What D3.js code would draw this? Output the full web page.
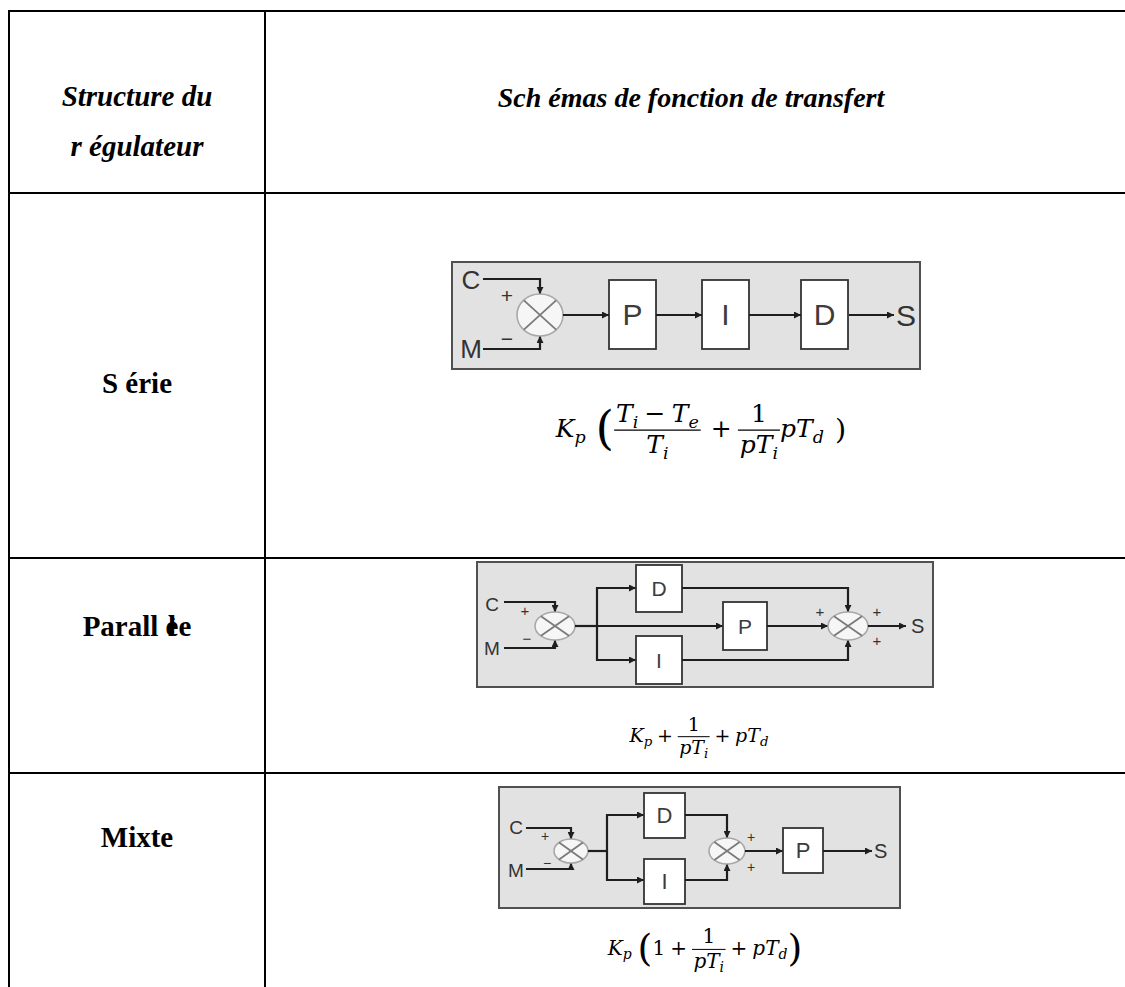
<!DOCTYPE html>
<html>
<head>
<meta charset="utf-8">
<script src="https://cdn.jsdelivr.net/npm/d3@7"></script>
<style>
  body { margin: 0; background: #fff; }
  svg { display: block; }
</style>
</head>
<body>
<svg id="chart" width="1125" height="987"></svg>
<script>
/* Table of PID regulator structures, drawn with D3 */

///////////////////////////////
/// Data
///////////////////////////////

const headerLeft = ["Structure du", "r égulateur"];
const headerRight = "Sch émas de fonction de transfert";
const rowLabels = ["S érie", "Parall èle", "Mixte"];

const inputLabels = ["C", "M"];
const inputSigns = ["+", "−"];
const outputLabel = "S";

const serieBlocks = ["P", "I", "D"];
const paralleleBlocks = ["D", "P", "I"];   // top, middle, bottom
const mixteBlocks = ["D", "I", "P"];       // top, bottom, output
const paralleleSigns = ["+", "+", "+"];
const mixteSigns = ["+", "+"];

// formula tokens: v = variable(+subscript), n = number, o = operator,
// f = fraction, p = parenthesis (scale), s = space (em)
const serieFormula = [
    ["v", "K", "p"], ["s", 0.4], ["p", "(", 1.9],
    ["f", [["v", "T", "i"], ["o", "−"], ["v", "T", "e"]], [["v", "T", "i"]]],
    ["s", 0.15], ["o", "+"],
    ["f", [["n", "1"]], [["v", "pT", "i"]]],
    ["v", "pT", "d"], ["s", 0.45], ["p", ")", 1.15]
];
const paralleleFormula = [
    ["v", "K", "p"], ["o", "+"],
    ["f", [["n", "1"]], [["v", "pT", "i"]]],
    ["o", "+"], ["v", "pT", "d"]
];
const mixteFormula = [
    ["v", "K", "p"], ["s", 0.3], ["p", "(", 1.9], ["n", "1"], ["o", "+"],
    ["f", [["n", "1"]], [["v", "pT", "i"]]],
    ["o", "+"], ["v", "pT", "d"], ["p", ")", 1.9]
];

///////////////////////////////
/// Layout
///////////////////////////////

const width = 1125, height = 987;
const colX = [9, 265, width];
const rowY = [11, 193, 558, 773, height];

const svg = d3.select("#chart");

svg.append("defs").append("marker")
    .attr("id", "arrow")
    .attr("viewBox", "0 0 8 8")
    .attr("refX", 8).attr("refY", 4)
    .attr("markerWidth", 7).attr("markerHeight", 7)
    .attr("markerUnits", "userSpaceOnUse")
    .attr("orient", "auto")
    .append("path")
    .attr("d", "M0,0L8,4L0,8z")
    .attr("fill", "#1e1e1e");

// table grid
const grid = svg.append("g").attr("stroke", "#000").attr("stroke-width", 2);
rowY.slice(0, 4).forEach(y => {
    grid.append("line").attr("x1", colX[0] - 1).attr("x2", width).attr("y1", y).attr("y2", y);
});
colX.slice(0, 2).forEach(x => {
    grid.append("line").attr("x1", x).attr("x2", x).attr("y1", rowY[0]).attr("y2", height);
});

const leftCenter = (colX[0] + colX[1]) / 2;
const serifFont = "'Liberation Serif', 'Times New Roman', serif";
const mathFont = "'DejaVu Serif', serif";

// header
headerLeft.forEach((t, i) => {
    svg.append("text")
        .attr("x", leftCenter).attr("y", 106 + i * 50)
        .attr("text-anchor", "middle")
        .attr("font-family", serifFont).attr("font-size", 29)
        .attr("font-weight", "bold").attr("font-style", "italic")
        .text(t);
});
svg.append("text")
    .attr("x", 691).attr("y", 107)
    .attr("text-anchor", "middle")
    .attr("font-family", serifFont).attr("font-size", 28)
    .attr("font-weight", "bold").attr("font-style", "italic")
    .text(headerRight);

// row labels (the "èl" pair is drawn overlapping, as in the source document)
const labelBaselines = [393, 636, 847];
rowLabels.forEach((label, i) => {
    let t = svg.append("text")
        .attr("x", leftCenter).attr("y", labelBaselines[i])
        .attr("text-anchor", "middle")
        .attr("font-family", serifFont).attr("font-size", 29)
        .attr("font-weight", "bold");
    let k = label.indexOf("èl");
    if (k < 0) {
        t.text(label);
    } else {
        t.append("tspan").text(label.slice(0, k + 1));
        t.append("tspan").attr("dx", "-0.361em").text("l");
        t.append("tspan").attr("dx", "0.083em").text(label.slice(k + 2));
    }
});

///////////////////////////////
/// Diagram helpers
///////////////////////////////

const sansFont = "'Liberation Sans', Arial, sans-serif";

function frame(x, y, w, h) {
    let g = svg.append("g").attr("transform", "translate(" + x + "," + y + ")");
    g.append("rect").attr("width", w).attr("height", h)
        .attr("fill", "#e2e2e2").attr("stroke", "#505050").attr("stroke-width", 2);
    return g;
}

const lineGen = d3.line();

function wire(g, pts, arrow) {
    let p = g.append("path").attr("d", lineGen(pts))
        .attr("fill", "none").attr("stroke", "#1e1e1e").attr("stroke-width", 2.2);
    if (arrow) p.attr("marker-end", "url(#arrow)");
}

function block(g, x, y, w, h, label, size) {
    g.append("rect").attr("x", x).attr("y", y).attr("width", w).attr("height", h)
        .attr("fill", "#fff").attr("stroke", "#333").attr("stroke-width", 1.8);
    g.append("text").attr("x", x + w / 2).attr("y", y + h / 2)
        .attr("dy", "0.36em").attr("text-anchor", "middle")
        .attr("font-family", sansFont).attr("font-size", size).attr("fill", "#3c3c3c")
        .text(label);
}

function junction(g, cx, cy, rx, ry) {
    g.append("ellipse").attr("cx", cx).attr("cy", cy).attr("rx", rx).attr("ry", ry)
        .attr("fill", "#f6f6f6").attr("stroke", "#a8a8a8").attr("stroke-width", 1.6);
    let dx = rx * 0.7, dy = ry * 0.7;
    g.append("path")
        .attr("d", "M" + (cx - dx) + "," + (cy - dy) + "L" + (cx + dx) + "," + (cy + dy) +
                   "M" + (cx - dx) + "," + (cy + dy) + "L" + (cx + dx) + "," + (cy - dy))
        .attr("stroke", "#7a7a7a").attr("stroke-width", 1.8);
}

function label(g, x, y, text, size, anchor) {
    g.append("text").attr("x", x).attr("y", y).attr("dy", "0.36em")
        .attr("text-anchor", anchor || "middle")
        .attr("font-family", sansFont).attr("font-size", size).attr("fill", "#333")
        .text(text);
}

///////////////////////////////
/// Formula layout
///////////////////////////////

function mathRow(g, tokens, size, font) {
    let x = 0;
    tokens.forEach(tk => { x += mathToken(g, tk, x, size, font); });
    return x;
}

function mathToken(g, tk, x, size, font) {
    let kind = tk[0];
    if (kind === "s") return tk[1] * size;
    if (kind === "v" || kind === "n") {
        let t = g.append("text").attr("x", x).attr("y", 0)
            .attr("font-family", font).attr("font-size", size)
            .attr("font-style", kind === "v" ? "italic" : "normal")
            .text(tk[1]);
        if (tk[2]) {
            t.append("tspan").attr("font-size", size * 0.7).attr("dy", size * 0.22).text(tk[2]);
        }
        return t.node().getComputedTextLength();
    }
    if (kind === "o") {
        let pad = 0.25 * size;
        let t = g.append("text").attr("x", x + pad).attr("y", 0)
            .attr("font-family", font).attr("font-size", size).text(tk[1]);
        return t.node().getComputedTextLength() + 2 * pad;
    }
    if (kind === "p") {
        let s = size * tk[2];
        let axis = 0.28 * size;
        let t = g.append("text").attr("x", x).attr("y", -axis + 0.3 * s)
            .attr("font-family", font).attr("font-size", s)
            .text(tk[1]);
        return t.node().getComputedTextLength();
    }
    if (kind === "f") {
        let axis = 0.28 * size;
        let num = g.append("g"), den = g.append("g");
        let nw = mathRow(num, tk[1], size, font);
        let dw = mathRow(den, tk[2], size, font);
        let w = Math.max(nw, dw) + 0.15 * size;
        num.attr("transform", "translate(" + (x + (w - nw) / 2) + "," + (-axis - 0.32 * size) + ")");
        den.attr("transform", "translate(" + (x + (w - dw) / 2) + "," + (-axis + 0.92 * size) + ")");
        g.append("line").attr("x1", x).attr("x2", x + w)
            .attr("y1", -axis).attr("y2", -axis)
            .attr("stroke", "#000").attr("stroke-width", Math.max(1, size * 0.05));
        return w;
    }
    return 0;
}

function formula(tokens, cx, baseline, size) {
    let g = svg.append("g");
    let w = mathRow(g, tokens, size, mathFont);
    g.attr("transform", "translate(" + (cx - w / 2) + "," + baseline + ")");
}

///////////////////////////////
/// Série
///////////////////////////////

(function () {
    let g = frame(452, 262, 468, 107);
    label(g, 19, 18, inputLabels[0], 26);
    label(g, 19, 87, inputLabels[1], 26);
    wire(g, [[31, 17], [88, 17], [88, 32]], true);
    wire(g, [[31, 87], [88, 87], [88, 74]], true);
    junction(g, 88, 53, 23, 21);
    label(g, 55, 33, inputSigns[0], 21);
    label(g, 55, 76, inputSigns[1], 21);
    let bx = [157, 250, 349];
    serieBlocks.forEach((b, i) => block(g, bx[i], 18, 47, 69, b, 30));
    wire(g, [[111, 53], [157, 53]], true);
    wire(g, [[204, 53], [250, 53]], true);
    wire(g, [[297, 53], [349, 53]], true);
    wire(g, [[397, 53], [442, 53]], true);
    label(g, 444, 53, outputLabel, 30, "start");
    formula(serieFormula, 701, 437, 25);
})();

///////////////////////////////
/// Parallèle
///////////////////////////////

(function () {
    let g = frame(477, 562, 456, 125);
    label(g, 15, 42, inputLabels[0], 19);
    label(g, 15, 86, inputLabels[1], 19);
    wire(g, [[27, 40], [78, 40], [78, 50]], true);
    wire(g, [[27, 86], [78, 86], [78, 78]], true);
    junction(g, 78, 64, 20, 14);
    label(g, 48, 49, inputSigns[0], 15);
    label(g, 50, 77, inputSigns[1], 15);
    wire(g, [[98, 64], [120, 64]], false);
    wire(g, [[159, 26], [120, 26], [120, 98], [159, 98]], false);
    wire(g, [[120, 26], [159, 26]], true);
    wire(g, [[120, 98], [159, 98]], true);
    wire(g, [[120, 64], [246, 64]], true);
    block(g, 159, 3, 46, 47, paralleleBlocks[0], 21);
    block(g, 246, 40, 44, 48, paralleleBlocks[1], 21);
    block(g, 159, 74, 46, 48, paralleleBlocks[2], 21);
    wire(g, [[205, 26], [371, 26], [371, 50]], true);
    wire(g, [[290, 64], [351, 64]], true);
    wire(g, [[205, 98], [371, 98], [371, 78]], true);
    junction(g, 371, 64, 20, 14);
    label(g, 343, 50, paralleleSigns[0], 15);
    label(g, 400, 50, paralleleSigns[1], 15);
    label(g, 400, 79, paralleleSigns[2], 15);
    wire(g, [[391, 64], [429, 64]], true);
    label(g, 434, 64, outputLabel, 20, "start");
    formula(paralleleFormula, 699, 742, 19);
})();

///////////////////////////////
/// Mixte
///////////////////////////////

(function () {
    let g = frame(499, 787, 401, 121);
    label(g, 17, 40, inputLabels[0], 19);
    label(g, 17, 83, inputLabels[1], 19);
    wire(g, [[27, 41], [72, 41], [72, 52]], true);
    wire(g, [[27, 82], [72, 82], [72, 76]], true);
    junction(g, 72, 64, 17, 12);
    label(g, 46, 49, inputSigns[0], 14);
    label(g, 48, 76, inputSigns[1], 14);
    wire(g, [[89, 64], [108, 64]], false);
    wire(g, [[145, 28], [108, 28], [108, 93], [145, 93]], false);
    wire(g, [[108, 28], [145, 28]], true);
    wire(g, [[108, 93], [145, 93]], true);
    block(g, 145, 6, 41, 45, mixteBlocks[0], 22);
    block(g, 145, 72, 41, 45, mixteBlocks[1], 22);
    wire(g, [[186, 28], [228, 28], [228, 51]], true);
    wire(g, [[186, 93], [228, 93], [228, 77]], true);
    junction(g, 228, 64, 18, 13);
    label(g, 252, 50, mixteSigns[0], 14);
    label(g, 252, 80, mixteSigns[1], 14);
    wire(g, [[246, 64], [284, 64]], true);
    block(g, 284, 41, 40, 45, mixteBlocks[2], 22);
    wire(g, [[324, 64], [373, 64]], true);
    label(g, 375, 64, outputLabel, 20, "start");
    formula(mixteFormula, 705, 955, 20);
})();
</script>
</body>
</html>
